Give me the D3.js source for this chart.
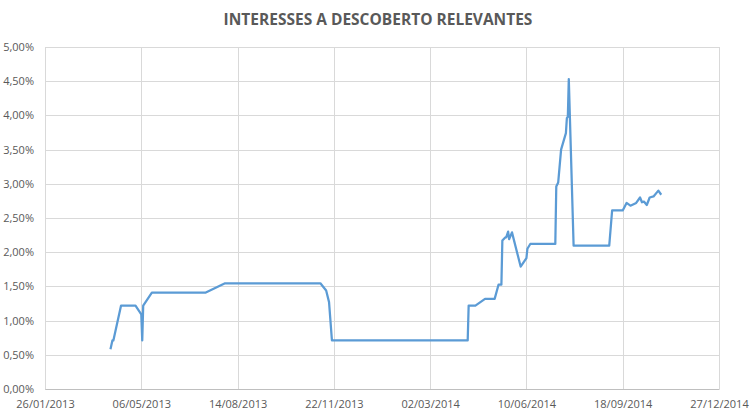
<!DOCTYPE html>
<html>
<head>
<meta charset="utf-8">
<script src="https://cdn.jsdelivr.net/npm/d3@7"></script>
<style>
  body { margin: 0; background: #fff; }
  text { font-family: "Open Sans", "Liberation Sans", sans-serif; }
</style>
</head>
<body>
<script>
// dati
var dates = ["2013-04-04","2013-04-06","2013-04-07","2013-04-15","2013-04-30","2013-05-06","2013-05-07","2013-05-08",
  "2013-05-17","2013-07-12","2013-08-01","2013-11-08","2013-11-14","2013-11-17","2013-11-20",
  "2014-04-10","2014-04-11","2014-04-18","2014-04-28","2014-05-08","2014-05-12","2014-05-15","2014-05-16",
  "2014-05-19","2014-05-20","2014-05-22","2014-05-23","2014-05-26","2014-06-04","2014-06-10","2014-06-11",
  "2014-06-14","2014-07-10","2014-07-11","2014-07-13","2014-07-16","2014-07-21","2014-07-22","2014-07-23",
  "2014-07-24","2014-07-29","2014-09-04","2014-09-07","2014-09-18","2014-09-22","2014-09-26","2014-10-02",
  "2014-10-06","2014-10-08","2014-10-10","2014-10-13","2014-10-16","2014-10-20","2014-10-25","2014-10-28"];
var rates = [0.58,0.71,0.71,1.22,1.22,1.09,0.71,1.22,
  1.41,1.41,1.545,1.545,1.44,1.27,0.71,
  0.71,1.22,1.22,1.317,1.317,1.525,1.525,2.17,
  2.216,2.216,2.30,2.19,2.29,1.79,1.915,2.05,
  2.12,2.12,2.96,3.02,3.50,3.74,3.96,3.98,
  4.53,2.095,2.095,2.61,2.61,2.72,2.68,2.72,
  2.80,2.73,2.74,2.69,2.80,2.815,2.90,2.84];
var xTicks = ["2013-01-26","2013-05-06","2013-08-14","2013-11-22","2014-03-02","2014-06-10","2014-09-18","2014-12-27"];
var yTicks = [0,0.5,1,1.5,2,2.5,3,3.5,4,4.5,5];
var title = "INTERESSES A DESCOBERTO RELEVANTES";

var totalWidth = 755, totalHeight = 416;
var margin = {top: 47, right: 36, bottom: 27, left: 45};
var width = totalWidth - margin.left - margin.right;
var height = totalHeight - margin.top - margin.bottom;

var parse = d3.timeParse("%Y-%m-%d");
var fmtDate = d3.timeFormat("%d/%m/%Y");
var fmtPct = function(v){ return v.toFixed(2).replace(".", ",") + "%"; };

var data = dates.map(function(d, i){ return {date: parse(d), value: rates[i]}; });
var tickDates = xTicks.map(parse);

var x = d3.scaleTime().domain([tickDates[0], tickDates[tickDates.length-1]]).range([0, width]);
var y = d3.scaleLinear().domain([0, 5]).range([height, 0]);

var svg = d3.select("body").append("svg")
  .attr("width", totalWidth)
  .attr("height", totalHeight);

// titolo
svg.append("text")
  .attr("x", 378)
  .attr("y", 25)
  .attr("text-anchor", "middle")
  .attr("font-size", "15.5px")
  .attr("font-weight", "bold")
  .attr("fill", "#595959")
  .text(title);

var g = svg.append("g")
  .attr("transform", "translate(" + margin.left + "," + margin.top + ")");

// griglia orizzontale
g.selectAll(".hgrid").data(yTicks).enter().append("line")
  .attr("class", "hgrid")
  .attr("x1", 0).attr("x2", width)
  .attr("y1", function(d){ return Math.round(y(d)) + 0.5; })
  .attr("y2", function(d){ return Math.round(y(d)) + 0.5; })
  .attr("stroke", "#d9d9d9");

// griglia verticale
g.selectAll(".vgrid").data(tickDates).enter().append("line")
  .attr("class", "vgrid")
  .attr("y1", 0).attr("y2", height)
  .attr("x1", function(d){ return Math.round(x(d)) + 0.5; })
  .attr("x2", function(d){ return Math.round(x(d)) + 0.5; })
  .attr("stroke", "#d9d9d9");

// asse x
var xAxis = g.append("g")
  .attr("transform", "translate(0," + height + ")")
  .call(d3.axisBottom(x).tickValues(tickDates).tickFormat(fmtDate).tickSize(0).tickPadding(11));
xAxis.select(".domain").attr("stroke", "#bfbfbf");
xAxis.selectAll("text").attr("font-size", "11px").attr("fill", "#595959")
  .style("font-family", "'Open Sans', 'Liberation Sans', sans-serif");

// asse y
var yAxis = g.append("g")
  .call(d3.axisLeft(y).tickValues(yTicks).tickFormat(fmtPct).tickSize(0).tickPadding(11));
yAxis.select(".domain").remove();
yAxis.selectAll("text").attr("font-size", "11px").attr("fill", "#595959")
  .style("font-family", "'Open Sans', 'Liberation Sans', sans-serif");

// linea
var line = d3.line()
  .x(function(d){ return x(d.date); })
  .y(function(d){ return y(d.value); });

g.append("path")
  .datum(data)
  .attr("d", line)
  .attr("fill", "none")
  .attr("stroke", "#5b9bd5")
  .attr("stroke-width", 2.25)
  .attr("stroke-linejoin", "round");
</script>
</body>
</html>
